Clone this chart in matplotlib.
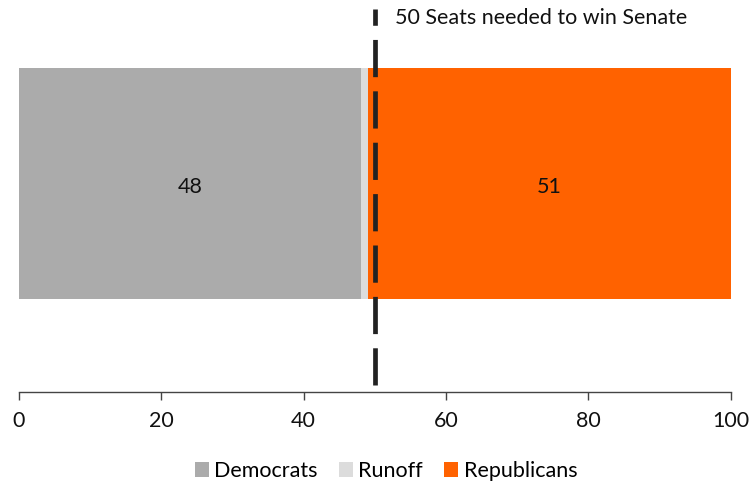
import matplotlib
matplotlib.use("Agg")
import matplotlib.pyplot as plt
from matplotlib.patches import Patch

# Senate seat split
parties = ["Democrats", "Runoff", "Republicans"]
seats = [48, 1, 51]
colors = ["#ababab", "#dcdcdc", "#ff6200"]
show_label = [True, False, True]

majority_line = 50
majority_text = "50 Seats needed to win Senate"
xticks = [0, 20, 40, 60, 80, 100]

plt.rcParams["font.family"] = ["Lato", "DejaVu Sans"]

fig = plt.figure(figsize=(7.51, 4.83), dpi=100)
ax = fig.add_axes([19 / 751, 1 - 392 / 483, (730.7 - 19) / 751, 392 / 483])

bar_y, bar_h = 0.532, 0.591
left = 0
for name, val, col, lab in zip(parties, seats, colors, show_label):
    ax.barh(bar_y, val, left=left, height=bar_h, color=col, label=name, zorder=2)
    if lab:
        ax.text(left + val / 2, bar_y - 0.008, f"{val}", ha="center", va="center",
                fontsize=15.5, color="#111111", zorder=3)
    left += val

lw = 3.4
ax.axvline(majority_line, ymin=0.018, ymax=0.977, color="#222222", lw=lw, zorder=4,
           linestyle=(0, (26.8 / lw, 10.2 / lw)), dash_capstyle="butt")

ax.text(52.8, 0.954, majority_text, ha="left", va="center", fontsize=15.5, color="#111111")

ax.set_xlim(0, 100)
ax.set_ylim(0, 1)
ax.set_xticks(xticks)
ax.set_xticklabels([str(t) for t in xticks], fontsize=15.5, color="#111111")
ax.set_yticks([])
for s in ["top", "right", "left"]:
    ax.spines[s].set_visible(False)
ax.spines["bottom"].set_color("#444444")
ax.spines["bottom"].set_linewidth(1.0)
ax.tick_params(axis="x", direction="out", length=6, width=1.0, color="#444444", pad=8)

handles = [Patch(facecolor=c, edgecolor="none", label=p) for p, c in zip(parties, colors)]
fig.legend(handles=handles, loc="center", bbox_to_anchor=(386 / 751, 1 - 471 / 483),
           ncol=3, frameon=False, fontsize=15.5, handlelength=0.65, handleheight=0.65,
           handletextpad=0.25, columnspacing=1.0)

fig.savefig("out.png", dpi=100)
